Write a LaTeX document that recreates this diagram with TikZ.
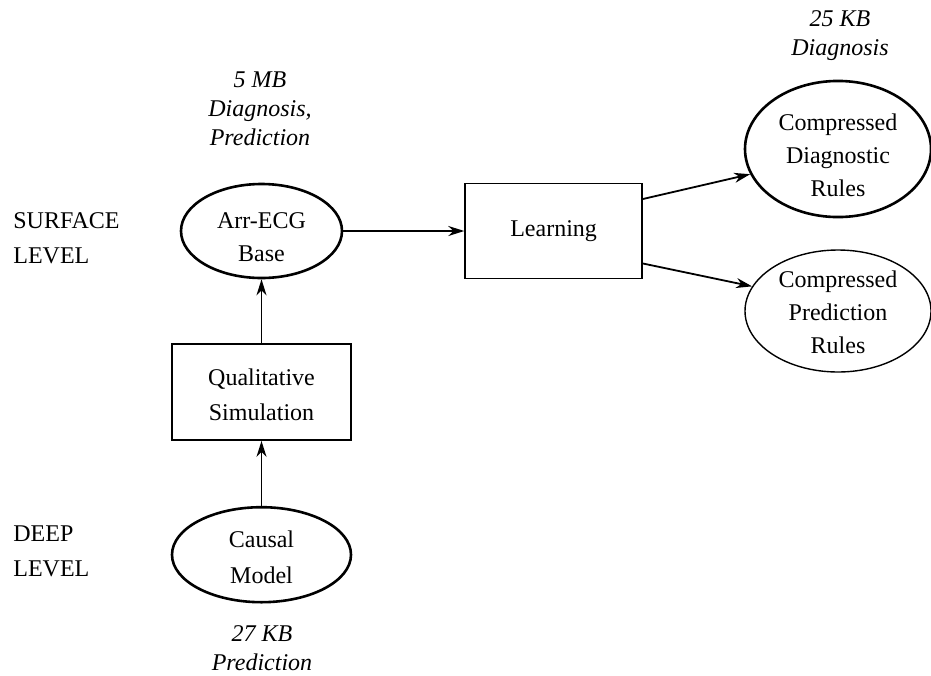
\documentclass[tikz,border=0pt]{standalone}
\usepackage{fontspec}
\setmainfont{Liberation Serif}
\usetikzlibrary{shapes.geometric, arrows.meta, positioning}

\newcommand{\lift}[1]{\rule{0pt}{#1}}

\begin{document}
\begin{tikzpicture}[
    x=0.5pt, y=-0.5pt,
    box/.style={draw, line width=0.8pt, minimum width=89.5pt, minimum height=48pt, inner sep=0pt, align=center, font=\fontsize{12}{17.5}\selectfont},
    blob/.style={draw, ellipse, line width=1.3pt, inner sep=0pt, align=center, font=\fontsize{12}{16.5}\selectfont},
    note/.style={align=center, inner sep=0pt, font=\fontsize{12}{14.5}\selectfont\itshape},
    level/.style={anchor=west, align=left, inner sep=0pt, font=\fontsize{12}{17.5}\selectfont},
    arrow/.style={-{Stealth[length=8pt, width=5pt, inset=2.5pt]}, line width=0.9pt}
]
\useasboundingbox (0,0) rectangle (931,675);

% main chain
\node[blob, minimum width=80.5pt, minimum height=47pt] (arr) at (261.5,231) {\lift{14pt}Arr-ECG\\Base};
\node[box, below=32pt of arr] (qual) {\lift{11.5pt}Qualitative\\Simulation};
\node[blob, minimum width=89.5pt, minimum height=47.5pt, font=\fontsize{12}{18}\selectfont, below=32.5pt of qual] (causal) {\lift{10.5pt}Causal\\Model};
\node[box, minimum width=88.5pt, minimum height=47.5pt, right=60.5pt of arr] (learn) {Learning};

% compressed rule sets
\node[blob, minimum width=93pt, minimum height=64pt] (diag) at (838,149) {\lift{15pt}Compressed\\Diagnostic\\Rules};
\node[blob, line width=0.7pt, minimum width=93pt, minimum height=61pt] (pred) at (838,311) {\lift{10pt}Compressed\\Prediction\\Rules};

% sizes and uses
\node[note] (arrnote) at (260,109) {5 MB\\Diagnosis,\\Prediction};
\node[note] (diagnote) at (840,36) {25 KB\\Diagnosis};
\node[note] (causalnote) at (262,648) {27 KB\\Prediction};

% levels
\node[level] (surface) at (13,238) {SURFACE\\LEVEL};
\node[level] (deep) at (13,551) {DEEP\\LEVEL};

\draw[arrow] (causal) -- (qual);
\draw[arrow] (qual) -- (arr);
\draw[arrow] (arr) -- (learn);
\draw[arrow] ([yshift=16pt]learn.east) -- (diag.196);
\draw[arrow] ([yshift=-16.25pt]learn.east) -- (pred.164);
\end{tikzpicture}
\end{document}
